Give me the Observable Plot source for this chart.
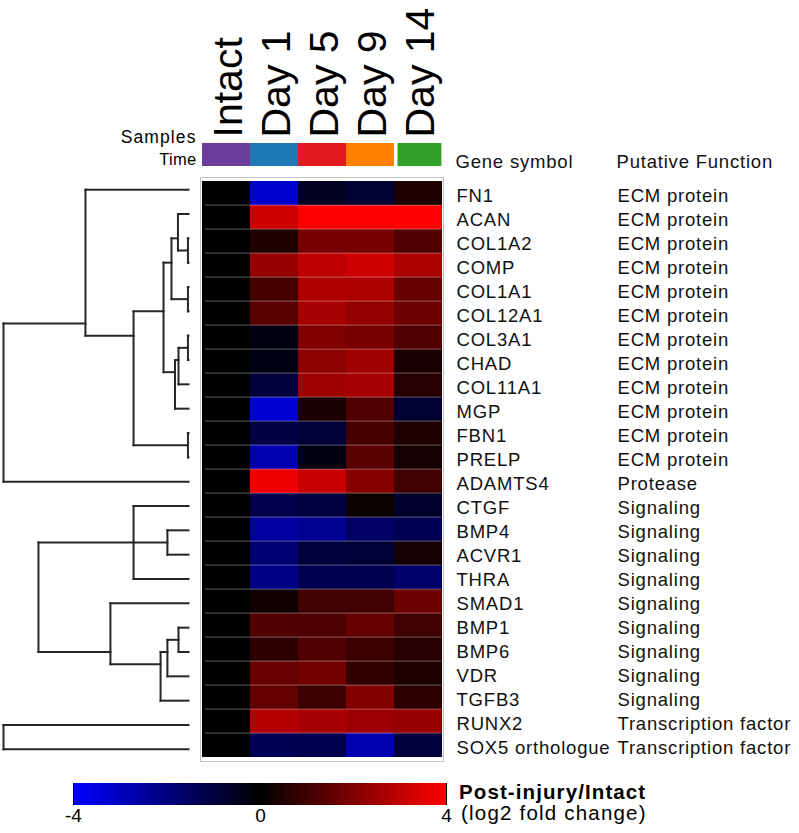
<!DOCTYPE html>
<html>
<head>
<meta charset="utf-8">
<script src="https://cdn.jsdelivr.net/npm/d3@7"></script>
<script src="https://cdn.jsdelivr.net/npm/@observablehq/plot@0.6"></script>
<style>
  html, body { margin: 0; padding: 0; background: #ffffff; }
  #chart { position: relative; width: 799px; height: 833px; background: #ffffff; overflow: hidden;
           font-family: "Liberation Sans", Arial, Helvetica, sans-serif; color: #000; }
  .lbl { position: absolute; white-space: nowrap; line-height: 1; }
</style>
</head>
<body>
<div id="chart"></div>
<script>
// ---------------- data ----------------
const samples = ["Intact", "Day 1", "Day 5", "Day 9", "Day 14"];
const sampleColors = ["#6a3d9a", "#1f78b4", "#e31a1c", "#ff7f00", "#33a02c"];

const genes = ["FN1", "ACAN", "COL1A2", "COMP", "COL1A1", "COL12A1", "COL3A1", "CHAD", "COL11A1",
  "MGP", "FBN1", "PRELP", "ADAMTS4", "CTGF", "BMP4", "ACVR1", "THRA", "SMAD1", "BMP1", "BMP6",
  "VDR", "TGFB3", "RUNX2", "SOX5 orthologue"];

const functions = ["ECM protein", "ECM protein", "ECM protein", "ECM protein", "ECM protein",
  "ECM protein", "ECM protein", "ECM protein", "ECM protein", "ECM protein", "ECM protein",
  "ECM protein", "Protease", "Signaling", "Signaling", "Signaling", "Signaling", "Signaling",
  "Signaling", "Signaling", "Signaling", "Signaling", "Transcription factor", "Transcription factor"];

// log2 fold change (post-injury / intact), one array per sample, in gene order
const intact = [0, 0, 0, 0, 0, 0, 0, 0, 0, 0, 0, 0, 0, 0, 0, 0, 0, 0, 0, 0, 0, 0, 0, 0];
const day1  = [-3.2, 3.2, 0.5, 2.35, 1.1, 1.4, -0.25, -0.3, -0.95, -3.3, -1.1, -2.75, 3.75, -1.2, -2.5, -1.8, -2.1, 0.25, 1.25, 0.7, 1.65, 1.55, 2.8, -1.35];
const day5  = [-0.5, 4, 1.9, 3.0, 2.75, 2.6, 2.0, 2.2, 2.5, 0.4, -0.85, -0.25, 3.1, -1.0, -2.3, -0.95, -1.25, 1.0, 1.2, 1.25, 1.8, 0.95, 2.6, -1.25];
const day9  = [-0.8, 4, 1.9, 3.2, 2.7, 2.3, 1.9, 2.5, 2.6, 1.25, 1.1, 1.4, 2.1, 0.2, -1.55, -0.85, -1.25, 1.0, 1.55, 0.95, 0.8, 2.05, 2.45, -2.75];
const day14 = [0.45, 4, 1.25, 2.7, 1.6, 1.7, 1.25, 0.4, 0.6, -0.8, 0.45, 0.3, 1.0, -0.7, -1.35, 0.3, -1.65, 1.7, 1.0, 0.6, 0.45, 0.7, 2.35, -0.95];
const sampleValues = [intact, day1, day5, day9, day14];

// row dendrogram: nodes {h: merge height, c: children}; leaves are gene names
const dendrogram = [
  {h: 10.0, c: [
    {h: 5.57, c: ["FN1",
      {h: 2.97, c: [
        {h: 1.35, c: [
          {h: 0.92, c: [
            {h: 0.57, c: ["ACAN", {h: 0.03, c: ["COL1A2", "COMP"]}]},
            {h: 0.03, c: ["COL1A1", "COL12A1"]}
          ]},
          {h: 0.73, c: [
            {h: 0.54, c: [{h: 0.03, c: ["COL3A1", "CHAD"]}, "COL11A1"]},
            "MGP"
          ]}
        ]},
        {h: 0.03, c: ["FBN1", "PRELP"]}
      ]}
    ]},
    "ADAMTS4"
  ]},
  {h: 8.11, c: [
    {h: 2.97, c: ["CTGF", {h: 1.14, c: ["BMP4", "ACVR1"]}, "THRA"]},
    {h: 4.22, c: ["SMAD1",
      {h: 1.51, c: [
        {h: 1.14, c: [{h: 0.54, c: ["BMP1", "BMP6"]}, "VDR"]},
        "TGFB3"
      ]}
    ]}
  ]},
  {h: 10.0, c: ["RUNX2", "SOX5 orthologue"]}
];

const legendTicks = [-4, 0, 4];
const legendTitle = "Post-injury/Intact";
const legendUnit = "(log2 fold change)";
const tableColumns = ["Gene symbol", "Putative Function"];

// ---------------- helpers ----------------
const root = document.getElementById("chart");
const FONT = "'Liberation Sans', Arial, Helvetica, sans-serif";
const TRANSPARENT = "background: transparent; overflow: visible;";
function place(el, left, top) {
  el.style.position = "absolute";
  el.style.left = left + "px";
  el.style.top = top + "px";
  root.appendChild(el);
  return el;
}

const heatColor = {type: "linear", domain: [-4, 0, 4], range: ["#0000ff", "#000000", "#ff0000"], interpolate: "rgb", clamp: true};

// dendrogram segments (node position = mean of its leaves' rows)
const segs = [];
function layout(node) {
  if (typeof node === "string") {
    const r = genes.indexOf(node);
    return {y: r, h: 0, leaves: [r]};
  }
  const kids = node.c.map(layout);
  const leaves = kids.flatMap(k => k.leaves);
  kids.forEach(k => segs.push({x1: k.h, x2: node.h, y1: k.y, y2: k.y}));
  segs.push({x1: node.h, x2: node.h, y1: kids[0].y, y2: kids[kids.length - 1].y});
  return {y: d3.mean(leaves), h: node.h, leaves};
}
dendrogram.forEach(layout);
const maxH = d3.max(dendrogram, d => d.h);

// heatmap table
const cells = genes.flatMap((g, i) => samples.map((s, j) => ({gene: g, sample: s, value: sampleValues[j][i]})));

const TOP = 177, BOTTOM = 761, HEAT_LEFT = 200, HEAT_RIGHT = 443;
const rowBand = (BOTTOM - TOP) / genes.length;

// ---------------- dendrogram ----------------
const dendroPlot = Plot.plot({
  width: 200, height: BOTTOM, marginTop: TOP, marginBottom: 0, marginLeft: 3, marginRight: 12,
  x: {domain: [maxH, 0], axis: null},
  y: {domain: [-0.5, genes.length - 0.5], reverse: true, axis: null},
  style: TRANSPARENT,
  marks: [
    Plot.link(segs, {x1: "x1", y1: "y1", x2: "x2", y2: "y2", stroke: "#262626", strokeWidth: 2, strokeLinecap: "square"})
  ]
});
place(dendroPlot, 0, 0);

// ---------------- heatmap ----------------
const heatPlot = Plot.plot({
  width: HEAT_RIGHT, height: BOTTOM, marginTop: TOP, marginBottom: 0, marginLeft: HEAT_LEFT, marginRight: 0,
  x: {type: "band", domain: samples, padding: 0, axis: null},
  y: {type: "band", domain: genes, padding: 0, axis: null},
  color: heatColor,
  style: TRANSPARENT,
  marks: [
    Plot.cell(cells, {x: "sample", y: "gene", fill: "value"}),
    Plot.cell(genes.slice(0, -1), {y: d => d, fill: "#ffffff", fillOpacity: 0.27,
      insetTop: rowBand - 1.6, dy: 0.8, insetLeft: 5, insetRight: 2}),
    Plot.frame({stroke: "#c4c4c4", strokeWidth: 1})
  ]
});
place(heatPlot, 0, 0);

// ---------------- sample header + time band ----------------
const headerPlot = Plot.plot({
  width: HEAT_RIGHT, height: 166, marginTop: 143, marginBottom: 0, marginLeft: HEAT_LEFT, marginRight: 0,
  x: {type: "band", domain: samples, padding: 0, axis: null},
  y: {type: "band", domain: ["Time"], padding: 0, axis: null},
  color: {type: "ordinal", domain: samples, range: sampleColors},
  style: TRANSPARENT,
  marks: [
    Plot.cell(samples.slice(0, 4), {x: d => d, y: () => "Time", fill: d => d}),
    Plot.cell(samples.slice(4), {x: d => d, y: () => "Time", fill: d => d, insetLeft: 3.5, insetRight: 0.6}),
    Plot.text(samples, {x: d => d, text: d => d, frameAnchor: "top", rotate: -90, textAnchor: "start",
      lineAnchor: "middle", dx: 2, dy: -6, fontSize: 41, fontFamily: FONT, fill: "#000"}),
    Plot.text(["Samples"], {y: () => "Time", text: d => d, frameAnchor: "left", textAnchor: "end",
      lineAnchor: "middle", dx: -4, dy: -18, fontSize: 17.5, fontFamily: FONT, fill: "#000"}),
    Plot.text(["Time"], {y: d => d, text: d => d, frameAnchor: "left", textAnchor: "end",
      lineAnchor: "middle", dx: -4, dy: 4.4, fontSize: 16.5, fontFamily: FONT, fill: "#000"})
  ]
});
d3.select(headerPlot).selectAll("text").filter(function () {
  const t = this.textContent; return t === "Samples" || t === "Time";
}).style("letter-spacing", function () { return this.textContent === "Samples" ? "1.1px" : "0.3px"; });
place(headerPlot, 0, 0);

// ---------------- gene symbol / function table ----------------
const tablePlot = Plot.plot({
  width: 799, height: BOTTOM, marginTop: TOP, marginBottom: 0, marginLeft: 456, marginRight: 10,
  x: {type: "point", domain: tableColumns, range: [456, 617], padding: 0, axis: null},
  y: {type: "band", domain: genes, padding: 0, axis: null},
  style: TRANSPARENT + " letter-spacing: 0.8px;",
  marks: [
    Plot.text(tableColumns, {x: d => d, text: d => d, frameAnchor: "top", textAnchor: "start",
      lineAnchor: "middle", dx: -1, dy: -15, fontSize: 18.5, fontFamily: FONT, fill: "#111"}),
    Plot.text(genes, {x: () => tableColumns[0], y: d => d, text: d => d, textAnchor: "start",
      lineAnchor: "middle", dy: 2.7, fontSize: 18.5, fontFamily: FONT, fill: "#111"}),
    Plot.text(genes, {x: () => tableColumns[1], y: d => d, text: (d, i) => functions[i], textAnchor: "start",
      lineAnchor: "middle", dy: 2.7, fontSize: 18.5, fontFamily: FONT, fill: "#111"})
  ]
});
place(tablePlot, 0, 0);

// ---------------- colour legend ----------------
const legend = Plot.legend({
  color: heatColor,
  width: 373, height: 50, marginTop: 0, marginBottom: 28, marginLeft: 0, marginRight: 0,
  tickSize: 0, ticks: legendTicks, tickFormat: d => String(d),
  style: `background: transparent; overflow: visible; font-family: ${FONT}; font-size: 19px; color: #000;`
});
d3.select(legend).selectAll("text").attr("font-size", 19).attr("font-family", FONT);
place(legend, 73, 783);

const t1 = document.createElement("div");
t1.className = "lbl";
t1.textContent = legendTitle;
t1.style.cssText += "font-weight: bold; font-size: 20.5px; letter-spacing: 1.1px;";
place(t1, 459, 782);

const t2 = document.createElement("div");
t2.className = "lbl";
t2.textContent = legendUnit;
t2.style.cssText += "font-size: 20.5px; letter-spacing: 1.2px;";
place(t2, 461, 803);
</script>
</body>
</html>
